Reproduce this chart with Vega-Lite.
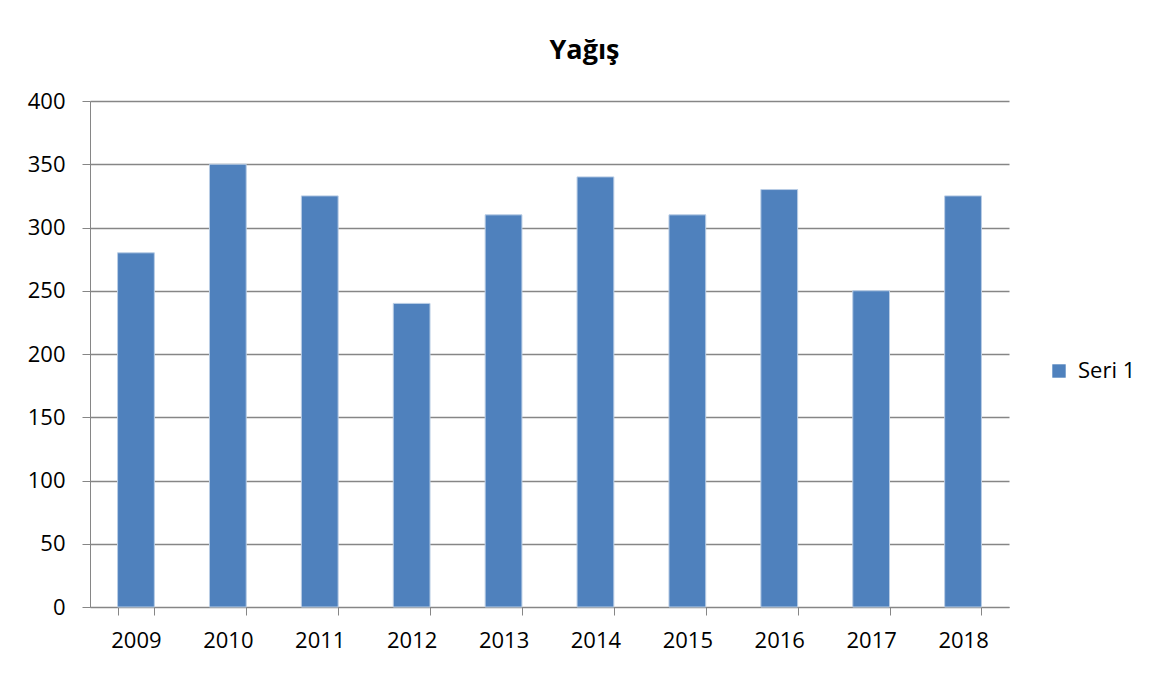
{
  "$schema": "https://vega.github.io/schema/vega-lite/v6.json",
  "autosize": "none",
  "width": 919,
  "height": 506,
  "padding": {"left": 90, "top": 101, "right": 147, "bottom": 68},
  "background": "white",
  "title": {"text": "Yağış", "font": "Open Sans", "fontSize": 27, "fontWeight": "bold", "color": "#000000", "anchor": "middle", "dx": 35, "offset": -2, "baseline": "bottom"},
  "data": {"values": [
    {"year": "2009", "value": 280, "series": "Seri 1"},
    {"year": "2010", "value": 350, "series": "Seri 1"},
    {"year": "2011", "value": 325, "series": "Seri 1"},
    {"year": "2012", "value": 240, "series": "Seri 1"},
    {"year": "2013", "value": 310, "series": "Seri 1"},
    {"year": "2014", "value": 340, "series": "Seri 1"},
    {"year": "2015", "value": 310, "series": "Seri 1"},
    {"year": "2016", "value": 330, "series": "Seri 1"},
    {"year": "2017", "value": 250, "series": "Seri 1"},
    {"year": "2018", "value": 325, "series": "Seri 1"}
  ]},
  "mark": {"type": "bar", "stroke": "#b9cde5", "strokeWidth": 1},
  "encoding": {
    "x": {"field": "year", "type": "nominal", "sort": null,
      "scale": {"paddingInner": 0.6, "paddingOuter": 0.3},
      "axis": {"title": null, "labelAngle": 0, "tickBand": "extent", "tickSize": 8, "labelPadding": 15,
        "labelFont": "Open Sans", "labelFontSize": 22, "labelColor": "#000000",
        "domainColor": "#868686", "tickColor": "#868686", "grid": false}},
    "y": {"field": "value", "type": "quantitative",
      "scale": {"domain": [0, 400], "nice": false},
      "axis": {"title": null, "values": [0, 50, 100, 150, 200, 250, 300, 350, 400], "tickSize": 8, "labelPadding": 17,
        "labelFont": "Open Sans", "labelFontSize": 22, "labelColor": "#000000",
        "domainColor": "#868686", "tickColor": "#868686", "gridColor": "#868686", "gridWidth": 1.5, "grid": true}},
    "color": {"field": "series", "type": "nominal",
      "scale": {"range": ["#4f81bd"]},
      "legend": {"title": null, "orient": "none", "legendX": 958, "legendY": 259,
        "symbolType": "square", "symbolSize": 180, "symbolStrokeWidth": 0,
        "labelFont": "Open Sans", "labelFontSize": 22, "labelColor": "#000000", "labelOffset": 8}}
  },
  "config": {"view": {"stroke": null}}
}
